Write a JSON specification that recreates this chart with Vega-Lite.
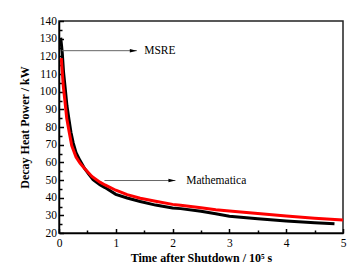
{
  "$schema": "https://vega.github.io/schema/vega-lite/v6.json",
  "width": 284,
  "height": 212,
  "autosize": {"type": "none"},
  "padding": {"left": 59, "top": 21, "right": 18, "bottom": 39},
  "background": "#ffffff",
  "config": {
    "font": "Liberation Serif",
    "view": {"stroke": "#222222", "strokeWidth": 1.5},
    "axis": {
      "grid": false,
      "domainColor": "#000000",
      "domainWidth": 1.5,
      "tickColor": "#000000",
      "tickWidth": 1.5,
      "labelColor": "#000000",
      "labelFont": "Liberation Serif",
      "labelFontSize": 11.5,
      "labelOverlap": false,
      "labelFlush": false,
      "titleColor": "#000000",
      "titleFont": "Liberation Serif",
      "titleFontSize": 12,
      "titleFontWeight": "bold"
    }
  },
  "resolve": {"axis": {"x": "independent", "y": "independent"}},
  "datasets": {
    "curves": [
      {"series": "MSRE", "t": 0.03, "p": 130.5},
      {"series": "MSRE", "t": 0.045, "p": 126},
      {"series": "MSRE", "t": 0.058, "p": 121.7},
      {"series": "MSRE", "t": 0.08, "p": 111},
      {"series": "MSRE", "t": 0.106, "p": 103},
      {"series": "MSRE", "t": 0.14, "p": 92},
      {"series": "MSRE", "t": 0.177, "p": 84},
      {"series": "MSRE", "t": 0.21, "p": 77},
      {"series": "MSRE", "t": 0.25, "p": 71},
      {"series": "MSRE", "t": 0.3, "p": 65.5},
      {"series": "MSRE", "t": 0.37, "p": 61},
      {"series": "MSRE", "t": 0.45, "p": 56.5},
      {"series": "MSRE", "t": 0.52, "p": 53.5},
      {"series": "MSRE", "t": 0.6, "p": 50.2},
      {"series": "MSRE", "t": 0.72, "p": 47.3},
      {"series": "MSRE", "t": 0.81, "p": 45.7},
      {"series": "MSRE", "t": 1.0, "p": 41.9},
      {"series": "MSRE", "t": 1.2, "p": 39.8},
      {"series": "MSRE", "t": 1.43, "p": 37.8},
      {"series": "MSRE", "t": 1.7, "p": 35.8},
      {"series": "MSRE", "t": 2.0, "p": 34.2},
      {"series": "MSRE", "t": 2.14, "p": 33.8},
      {"series": "MSRE", "t": 2.5, "p": 32.3},
      {"series": "MSRE", "t": 2.76, "p": 30.9},
      {"series": "MSRE", "t": 3.0, "p": 29.5},
      {"series": "MSRE", "t": 3.5, "p": 28},
      {"series": "MSRE", "t": 4.0, "p": 26.8},
      {"series": "MSRE", "t": 4.5, "p": 25.8},
      {"series": "MSRE", "t": 4.85, "p": 25.2},
      {"series": "Mathematica", "t": 0.04, "p": 119},
      {"series": "Mathematica", "t": 0.06, "p": 110},
      {"series": "Mathematica", "t": 0.076, "p": 103},
      {"series": "Mathematica", "t": 0.1, "p": 96},
      {"series": "Mathematica", "t": 0.136, "p": 85},
      {"series": "Mathematica", "t": 0.18, "p": 77},
      {"series": "Mathematica", "t": 0.224, "p": 69.5},
      {"series": "Mathematica", "t": 0.3, "p": 63},
      {"series": "Mathematica", "t": 0.37, "p": 59.5},
      {"series": "Mathematica", "t": 0.45, "p": 56.5},
      {"series": "Mathematica", "t": 0.58, "p": 52},
      {"series": "Mathematica", "t": 0.72, "p": 48.8},
      {"series": "Mathematica", "t": 0.81, "p": 47.2},
      {"series": "Mathematica", "t": 1.0, "p": 44.2},
      {"series": "Mathematica", "t": 1.2, "p": 41.7},
      {"series": "Mathematica", "t": 1.43, "p": 39.7},
      {"series": "Mathematica", "t": 1.7, "p": 38},
      {"series": "Mathematica", "t": 2.0, "p": 36.2},
      {"series": "Mathematica", "t": 2.14, "p": 35.7},
      {"series": "Mathematica", "t": 2.5, "p": 34.3},
      {"series": "Mathematica", "t": 2.76, "p": 33.2},
      {"series": "Mathematica", "t": 3.0, "p": 32.5},
      {"series": "Mathematica", "t": 3.5, "p": 31},
      {"series": "Mathematica", "t": 4.0, "p": 29.6},
      {"series": "Mathematica", "t": 4.5, "p": 28.4},
      {"series": "Mathematica", "t": 5.0, "p": 27.3}
    ],
    "notes": [
      {"label": "MSRE", "x1": 0.048, "x2": 1.37, "y": 123.2, "tx": 1.5},
      {"label": "Mathematica", "x1": 0.8, "x2": 2.05, "y": 49.7, "tx": 2.24}
    ]
  },
  "layer": [
    {
      "data": {"name": "curves"},
      "mark": {"type": "line", "strokeWidth": 3, "clip": true},
      "encoding": {
        "x": {
          "field": "t", "type": "quantitative",
          "scale": {"domain": [0, 5], "nice": false, "zero": false},
          "axis": {
            "orient": "bottom",
            "title": "Time after Shutdown / 10⁵ s",
            "values": [0, 1, 2, 3, 4, 5],
            "format": "d",
            "ticks": false,
            "tickSize": 0,
            "labelPadding": 4,
            "labelOverlap": false,
            "titlePadding": 4
          }
        },
        "y": {
          "field": "p", "type": "quantitative",
          "scale": {"domain": [20, 140], "nice": false, "zero": false},
          "axis": {
            "orient": "left",
            "title": "Decay Heat Power / kW",
            "values": [20, 30, 40, 50, 60, 70, 80, 90, 100, 110, 120, 130, 140],
            "format": "d",
            "ticks": false,
            "tickSize": 0,
            "labelPadding": 2.5,
            "labelOverlap": false,
            "titlePadding": 8
          }
        },
        "color": {
          "field": "series", "type": "nominal",
          "scale": {"domain": ["MSRE", "Mathematica"], "range": ["#000000", "#ff0000"]},
          "legend": null
        },
        "order": {"field": "t", "type": "quantitative"}
      }
    },
    {
      "data": {"name": "notes"},
      "mark": {"type": "rule", "color": "#666666", "strokeWidth": 1},
      "encoding": {
        "x": {"field": "x1", "type": "quantitative", "axis": {"orient": "bottom", "values": [0, 1, 2, 3, 4, 5], "offset": -4.5, "tickSize": 4.5, "domain": false, "labels": false, "title": null}},
        "x2": {"field": "x2"},
        "y": {"field": "y", "type": "quantitative", "axis": {"orient": "left", "values": [20, 30, 40, 50, 60, 70, 80, 90, 100, 110, 120, 130, 140], "offset": -4.5, "tickSize": 4.5, "domain": false, "labels": false, "title": null}}
      }
    },
    {
      "data": {"name": "notes"},
      "mark": {"type": "point", "shape": "M-2,-0.5L0,0L-2,0.5Z", "filled": true, "color": "#000000", "opacity": 1, "size": 49},
      "encoding": {
        "x": {"field": "x2", "type": "quantitative", "axis": {"orient": "bottom", "values": [0.5, 1.5, 2.5, 3.5, 4.5], "offset": -3, "tickSize": 3, "domain": false, "labels": false, "title": null}},
        "y": {"field": "y", "type": "quantitative", "axis": {"orient": "left", "values": [25, 35, 45, 55, 65, 75, 85, 95, 105, 115, 125, 135], "offset": -3, "tickSize": 3, "domain": false, "labels": false, "title": null}}
      }
    },
    {
      "data": {"name": "notes"},
      "mark": {"type": "text", "align": "left", "baseline": "middle", "fontSize": 11.5, "font": "Liberation Serif", "color": "#000000"},
      "encoding": {
        "x": {"field": "tx", "type": "quantitative", "axis": null},
        "y": {"field": "y", "type": "quantitative", "axis": null},
        "text": {"field": "label"}
      }
    }
  ]
}
